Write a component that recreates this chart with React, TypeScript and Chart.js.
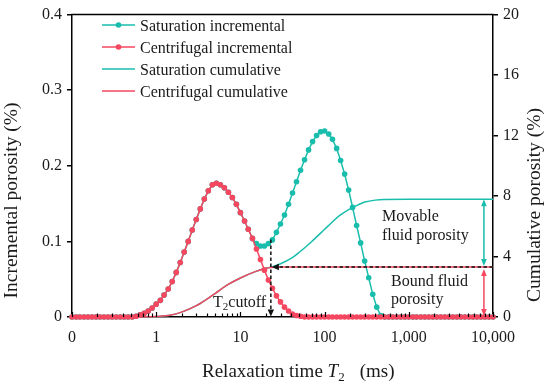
import React, { useEffect, useRef } from 'react';
import { Chart, registerables } from 'chart.js';

Chart.register(...registerables);

// ---------------- data ----------------
const t2Grid = [
  0.1, 0.112, 0.124, 0.139, 0.155, 0.173, 0.193, 0.215, 0.24, 0.268, 0.299, 0.334, 0.373, 0.416, 0.464, 0.518, 0.578, 0.645, 0.72, 0.803, 0.896,
  1, 1.12, 1.24, 1.39, 1.55, 1.73, 1.93, 2.15, 2.4, 2.68, 2.99, 3.34, 3.73, 4.16, 4.64, 5.18, 5.78, 6.45, 7.2, 8.03, 8.96,
  10, 11.2, 12.4, 13.9, 15.5, 17.3, 19.3, 21.5, 24, 26.8, 29.9, 33.4, 37.3, 41.6, 46.4, 51.8, 57.8, 64.5, 72, 80.3, 89.6,
  100, 112, 124, 139, 155, 173, 193, 215, 240, 268, 299, 334, 373, 416, 464, 518, 578, 645, 720, 803, 896,
  1000, 1120, 1240, 1390, 1550, 1730, 1930, 2150, 2400, 2680, 2990, 3340, 3730, 4160, 4640, 5180, 5780, 6450, 7200, 8030, 8960,
  10000,
];

const centrifugalIncremental = [
  0, 0, 0, 0, 0, 0, 0, 0, 0, 0, 0, 0, 0, 0, 0, 0, 0.001, 0.003, 0.005, 0.008, 0.012,
  0.017, 0.022, 0.029, 0.037, 0.047, 0.059, 0.072, 0.086, 0.1, 0.115, 0.129, 0.143, 0.156, 0.167, 0.175, 0.177, 0.175, 0.171, 0.165, 0.158, 0.149,
  0.138, 0.127, 0.116, 0.104, 0.09, 0.076, 0.062, 0.049, 0.038, 0.028, 0.02, 0.013, 0.008, 0.004, 0.002, 0.001, 0, 0, 0, 0, 0,
  0, 0, 0, 0, 0, 0, 0, 0, 0, 0, 0, 0, 0, 0, 0, 0, 0, 0, 0, 0, 0,
  0, 0, 0, 0, 0, 0, 0, 0, 0, 0, 0, 0, 0, 0, 0, 0, 0, 0, 0, 0, 0,
  0,
];

const saturationIncremental = [
  0, 0, 0, 0, 0, 0, 0, 0, 0, 0, 0, 0, 0, 0, 0, 0, 0.001, 0.003, 0.005, 0.008, 0.012,
  0.017, 0.022, 0.029, 0.037, 0.047, 0.059, 0.072, 0.086, 0.1, 0.115, 0.129, 0.143, 0.156, 0.167, 0.175, 0.177, 0.175, 0.171, 0.165, 0.158, 0.149,
  0.138, 0.127, 0.116, 0.104, 0.097, 0.094, 0.094, 0.097, 0.102, 0.112, 0.123, 0.135, 0.149, 0.164, 0.179, 0.194, 0.208, 0.221, 0.232, 0.24, 0.245,
  0.246, 0.242, 0.235, 0.223, 0.207, 0.189, 0.168, 0.145, 0.121, 0.098, 0.074, 0.052, 0.03, 0.013, 0.002, 0, 0, 0, 0, 0, 0,
  0, 0, 0, 0, 0, 0, 0, 0, 0, 0, 0, 0, 0, 0, 0, 0, 0, 0, 0, 0, 0,
  0,
];

const cumulativeT2 = [0.1, 0.5, 0.8, 1, 1.5, 2, 3, 4, 5, 7, 10, 15, 20, 23, 30, 40, 50, 70, 100, 120, 150, 200, 250, 300, 400, 500, 1000, 10000];
const centrifugalCumulative = [0, 0, 0.01, 0.03, 0.13, 0.32, 0.75, 1.18, 1.55, 2.12, 2.58, 3.0, 3.22, 3.28, 3.31, 3.31, 3.31, 3.31, 3.31, 3.31, 3.31, 3.31, 3.31, 3.31, 3.31, 3.31, 3.31, 3.31];
const saturationCumulative = [0, 0, 0.01, 0.03, 0.13, 0.32, 0.75, 1.18, 1.55, 2.12, 2.58, 3.0, 3.22, 3.3, 3.52, 3.87, 4.28, 4.98, 5.8, 6.22, 6.7, 7.15, 7.42, 7.6, 7.73, 7.77, 7.78, 7.78];

const xDecades = [0.1, 1, 10, 100, 1000, 10000];
const xTickLabels = ['0', '1', '10', '100', '1,000', '10,000'];
const leftTicks = [0, 0.1, 0.2, 0.3, 0.4];
const leftTickLabels = ['0', '0.1', '0.2', '0.3', '0.4'];
const rightTicks = [0, 4, 8, 12, 16, 20];
const rightTickLabels = ['0', '4', '8', '12', '16', '20'];

const legendLabels = ['Saturation incremental', 'Centrifugal incremental', 'Saturation cumulative', 'Centrifugal cumulative'];

const T2_CUTOFF = 23;
const CUTOFF_INCREMENTAL = 0.1025;
const BOUND_POROSITY = 3.31;
const TOTAL_POROSITY = 7.78;
const ARROW_T2 = 7800;

// ---------------- style ----------------
const CYAN = '#19BDAC';
const RED = '#F5475F';
const INK = '#1a1a1a';
const SERIF = '"Liberation Serif", "Times New Roman", Times, serif';

function arrowHead(ctx: CanvasRenderingContext2D, tx: number, ty: number, dx: number, dy: number, len = 7, half = 3) {
  const px = -dy, py = dx;
  ctx.beginPath();
  ctx.moveTo(tx, ty);
  ctx.lineTo(tx - dx * len + px * half, ty - dy * len + py * half);
  ctx.lineTo(tx - dx * len - px * half, ty - dy * len - py * half);
  ctx.closePath();
  ctx.fill();
}

const decorPlugin = {
  id: 'decor',
  afterDraw(chart: any) {
    const ctx: CanvasRenderingContext2D = chart.ctx;
    const { left, right, top, bottom } = chart.chartArea;
    const xs = chart.scales.x, ys = chart.scales.y, y2 = chart.scales.y2;
    ctx.save();

    // top frame
    ctx.strokeStyle = '#000';
    ctx.lineWidth = 1.5;
    ctx.beginPath();
    ctx.moveTo(left - 0.75, top);
    ctx.lineTo(right + 0.75, top);
    ctx.stroke();

    // inward x ticks
    ctx.lineWidth = 1.2;
    for (const t of xs.ticks) {
      const px = Math.round(xs.getPixelForValue(t.value)) + 0.5;
      const major = xDecades.some((d) => Math.abs(d - t.value) < d * 1e-6);
      ctx.beginPath();
      ctx.moveTo(px, bottom);
      ctx.lineTo(px, bottom - (major ? 5 : 3.5));
      ctx.stroke();
    }

    // T2 cutoff vertical dashed arrow
    const xc = xs.getPixelForValue(T2_CUTOFF);
    const yTop = ys.getPixelForValue(CUTOFF_INCREMENTAL);
    const yh = y2.getPixelForValue(BOUND_POROSITY);
    ctx.strokeStyle = '#111';
    ctx.fillStyle = '#111';
    ctx.lineWidth = 1.5;
    ctx.setLineDash([3.5, 2.5]);
    ctx.beginPath();
    ctx.moveTo(xc, yTop);
    ctx.lineTo(xc, bottom - 6);
    ctx.stroke();
    ctx.beginPath();
    ctx.moveTo(right, yh);
    ctx.lineTo(xc + 7, yh);
    ctx.stroke();
    ctx.setLineDash([]);
    arrowHead(ctx, xc, bottom - 0.5, 0, 1, 7, 3.2);
    arrowHead(ctx, xc + 1, yh, -1, 0, 7, 3.2);

    // double arrows
    const xa = xs.getPixelForValue(ARROW_T2);
    const yTot = y2.getPixelForValue(TOTAL_POROSITY);
    ctx.lineWidth = 1.5;
    ctx.strokeStyle = CYAN;
    ctx.fillStyle = CYAN;
    ctx.beginPath();
    ctx.moveTo(xa, yTot + 5);
    ctx.lineTo(xa, yh - 6);
    ctx.stroke();
    arrowHead(ctx, xa, yTot, 0, -1, 7, 2.8);
    arrowHead(ctx, xa, yh - 1, 0, 1, 7, 2.8);
    ctx.strokeStyle = RED;
    ctx.fillStyle = RED;
    ctx.beginPath();
    ctx.moveTo(xa, yh + 7);
    ctx.lineTo(xa, bottom - 6);
    ctx.stroke();
    arrowHead(ctx, xa, yh + 2, 0, -1, 7, 2.8);
    arrowHead(ctx, xa, bottom - 1, 0, 1, 7, 2.8);

    // annotation texts
    ctx.fillStyle = INK;
    ctx.textAlign = 'left';
    ctx.textBaseline = 'alphabetic';
    ctx.font = `16px ${SERIF}`;
    ctx.fillText('Movable', 382, 221);
    ctx.fillText('fluid porosity', 382, 240);
    ctx.fillText('Bound fluid', 391, 286);
    ctx.fillText('porosity', 391, 304);

    // T2cutoff
    let tx = 213;
    ctx.font = `16px ${SERIF}`;
    ctx.fillText('T', tx, 306.5);
    tx += ctx.measureText('T').width;
    ctx.font = `11px ${SERIF}`;
    ctx.fillText('2', tx, 310);
    tx += ctx.measureText('2').width;
    ctx.font = `16px ${SERIF}`;
    ctx.fillText('cutoff', tx, 306.5);

    // legend
    const rows = [25, 47, 69, 91];
    const colors = [CYAN, RED, CYAN, RED];
    const dots = [true, true, false, false];
    rows.forEach((ry, i) => {
      ctx.strokeStyle = colors[i];
      ctx.fillStyle = colors[i];
      ctx.lineWidth = 1.5;
      ctx.beginPath();
      ctx.moveTo(102, ry);
      ctx.lineTo(135, ry);
      ctx.stroke();
      if (dots[i]) {
        ctx.beginPath();
        ctx.arc(118.5, ry, 2.8, 0, Math.PI * 2);
        ctx.fill();
      }
      ctx.fillStyle = INK;
      ctx.font = `16px ${SERIF}`;
      ctx.fillText(legendLabels[i], 140, ry + 5.5);
    });

    // axis titles
    ctx.fillStyle = INK;
    ctx.font = `19.5px ${SERIF}`;
    ctx.textAlign = 'center';
    ctx.save();
    ctx.translate(17, 200.5);
    ctx.rotate(-Math.PI / 2);
    ctx.fillText('Incremental porosity (%)', 0, 0);
    ctx.restore();
    ctx.save();
    ctx.translate(540, 205);
    ctx.rotate(-Math.PI / 2);
    ctx.fillText('Cumulative porosity (%)', 0, 0);
    ctx.restore();

    // x title with italic T and subscript 2
    ctx.textAlign = 'left';
    let bx = 202;
    const by = 377;
    ctx.font = `19px ${SERIF}`;
    ctx.fillText('Relaxation time ', bx, by);
    bx += ctx.measureText('Relaxation time ').width;
    ctx.font = `italic 19px ${SERIF}`;
    ctx.fillText('T', bx, by);
    bx += ctx.measureText('T').width;
    ctx.font = `13px ${SERIF}`;
    ctx.fillText('2', bx, by + 4);
    bx += ctx.measureText('2').width + 15;
    ctx.font = `19px ${SERIF}`;
    ctx.fillText('(ms)', bx, by);

    ctx.restore();
  },
};

export default function App() {
  const ref = useRef<HTMLCanvasElement | null>(null);

  useEffect(() => {
    if (!ref.current) return;
    const toXY = (xsArr: number[], ysArr: number[]) => xsArr.map((x, i) => ({ x, y: ysArr[i] }));
    const minorTicks: number[] = [];
    xDecades.forEach((d, k) => {
      if (k === xDecades.length - 1) {
        minorTicks.push(d);
        return;
      }
      for (let m = 1; m <= 9; m++) minorTicks.push(Number((d * m).toPrecision(3)));
    });
    const tickFont = { family: SERIF, size: 16 };

    const chart = new Chart(ref.current, {
      type: 'line',
      data: {
        datasets: [
          {
            label: 'Centrifugal incremental',
            data: toXY(t2Grid, centrifugalIncremental),
            yAxisID: 'y',
            borderColor: RED,
            backgroundColor: RED,
            borderWidth: 1.5,
            pointRadius: 2.8,
            pointBorderWidth: 0,
            tension: 0,
            clip: false,
            order: 0,
          },
          {
            label: 'Centrifugal cumulative',
            data: toXY(cumulativeT2, centrifugalCumulative),
            yAxisID: 'y2',
            borderColor: RED,
            backgroundColor: RED,
            borderWidth: 1.5,
            pointRadius: 0,
            cubicInterpolationMode: 'monotone',
            clip: false,
            order: 1,
          },
          {
            label: 'Saturation incremental',
            data: toXY(t2Grid, saturationIncremental),
            yAxisID: 'y',
            borderColor: CYAN,
            backgroundColor: CYAN,
            borderWidth: 1.5,
            pointRadius: 2.8,
            pointBorderWidth: 0,
            tension: 0,
            clip: false,
            order: 2,
          },
          {
            label: 'Saturation cumulative',
            data: toXY(cumulativeT2, saturationCumulative),
            yAxisID: 'y2',
            borderColor: CYAN,
            backgroundColor: CYAN,
            borderWidth: 1.5,
            pointRadius: 0,
            cubicInterpolationMode: 'monotone',
            clip: false,
            order: 3,
          },
        ],
      } as any,
      options: {
        responsive: false,
        animation: false,
        events: [],
        layout: { padding: { top: 11, left: 0, right: 0, bottom: 0 } },
        plugins: { legend: { display: false }, tooltip: { enabled: false }, title: { display: false } },
        scales: {
          x: {
            type: 'logarithmic',
            min: 0.1,
            max: 10000,
            afterBuildTicks: (s: any) => {
              s.ticks = minorTicks.map((v) => ({ value: v }));
            },
            afterFit: (s: any) => {
              s.height = 68;
            },
            ticks: {
              autoSkip: false,
              maxRotation: 0,
              padding: 6,
              color: INK,
              font: tickFont,
              callback: (v: any) => {
                const k = xDecades.findIndex((d) => Math.abs(d - v) < d * 1e-6);
                return k >= 0 ? xTickLabels[k] : '';
              },
            },
            grid: { drawOnChartArea: false, color: 'rgba(0,0,0,0)', tickLength: 5 },
            border: { display: true, color: '#000', width: 1.5 },
          },
          y: {
            type: 'linear',
            position: 'left',
            min: 0,
            max: 0.4,
            afterBuildTicks: (s: any) => {
              s.ticks = leftTicks.map((v) => ({ value: v }));
            },
            afterFit: (s: any) => {
              s.width = 72;
            },
            ticks: {
              padding: 5,
              color: INK,
              font: tickFont,
              callback: (_v: any, i: number) => leftTickLabels[i],
            },
            grid: { drawOnChartArea: false, color: '#000', lineWidth: 1.5, tickLength: 5 },
            border: { display: true, color: '#000', width: 1.5 },
          },
          y2: {
            type: 'linear',
            position: 'right',
            min: 0,
            max: 20,
            afterBuildTicks: (s: any) => {
              s.ticks = rightTicks.map((v) => ({ value: v }));
            },
            afterFit: (s: any) => {
              s.width = 57;
            },
            ticks: {
              padding: 5,
              color: INK,
              font: tickFont,
              callback: (_v: any, i: number) => rightTickLabels[i],
            },
            grid: { drawOnChartArea: false, color: '#000', lineWidth: 1.5, tickLength: 5 },
            border: { display: true, color: '#000', width: 1.5 },
          },
        },
      } as any,
      plugins: [decorPlugin],
    });
    return () => chart.destroy();
  }, []);

  return (
    <div style={{ position: 'fixed', left: 0, top: 0, width: 550, height: 385, background: '#fff' }}>
      <canvas ref={ref} width={550} height={385} style={{ display: 'block', width: 550, height: 385 }} />
    </div>
  );
}
